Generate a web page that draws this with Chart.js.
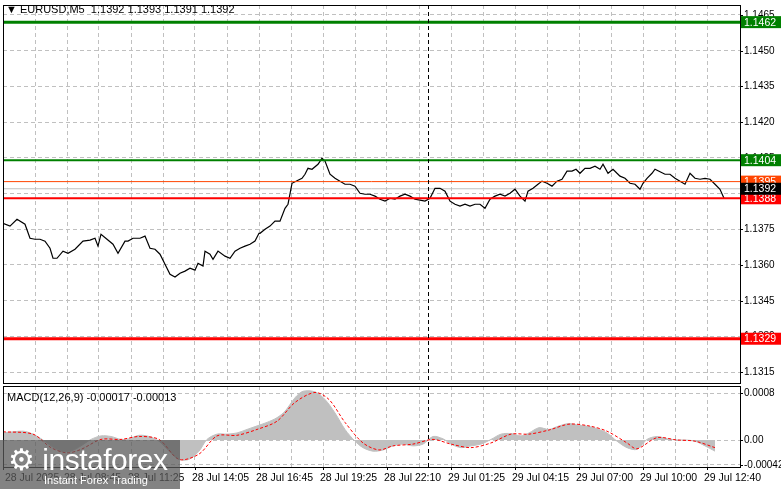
<!DOCTYPE html>
<html><head><meta charset="utf-8">
<script src="https://cdn.jsdelivr.net/npm/chart.js@4"></script>
<style>
body{margin:0;width:781px;height:489px;background:#fff;overflow:hidden;position:relative;font-family:"Liberation Sans",sans-serif}
#c1{position:absolute;left:0;top:0}
#c2{position:absolute;left:0;top:384px}
.t{position:absolute;font-size:11px;color:#000;white-space:nowrap}
#logo{position:absolute;left:0;top:440px;width:180px;height:49px;background:rgba(90,90,90,0.75);color:#fff}
</style></head><body>
<canvas id="c1" width="781" height="384"></canvas>
<canvas id="c2" width="781" height="105"></canvas>
<div class="t" style="left:6px;top:3px">&#9660; EURUSD,M5&nbsp; 1.1392 1.1393 1.1391 1.1392</div>
<div class="t" style="left:7px;top:391px">MACD(12,26,9) -0.00017 -0.00013</div>
<div id="logo"><div style="position:absolute;left:8px;top:2px;font-size:30px;font-family:'Liberation Sans',sans-serif;letter-spacing:-0.5px">&#9881; instaforex</div><div style="position:absolute;left:44px;top:34px;font-size:11px">Instant Forex Trading</div></div>
<script>
// ---- data ----
const priceBars = [0,3.5,7,11,13.5,16,18.5,21,23.5,25,27,30,32.5,36,40,43.5,46,47.5,49,52,55,57.5,61,62.5,65,68.5,71,73.5,76,78.5,81,83.5,86,88.5,91,93.5,96,97.5,100,101,103.5,105,107.5,111,113.5,116,118.5,121,123.5,126,128,128.5,131,133.5,136,138.5,141,142.5,144.5,147.5,149.5,151,152.5,154.5,157.5,159.5,161,163.5,166,168.5,171,173.5,176,178.5,181,183.5,186,188.5,191,193.5,196,198.5,201,203.5,206,208.5,211,213.5,216,218.5,221,223.5,226,228.5,231,233.5,236,238.5,241,243.5,246,248.5,251,253.5,256,258.5,261,262.5,265,267.5,269.5,272,274.5,277,279.5,282,284.5,286.5,288.5,291,293.5,296,298.5,300,302.5,305,307,308.5,311,313.5,316,318.5,320,322,324.5,326,331,333.5,336,338.5,341,343.5,346,348.5,351,353.5,356,358.5,360.5];
const closes = [1.13775,1.13763,1.13792,1.13771,1.13712,1.13708,1.13708,1.13700,1.13670,1.13628,1.13628,1.13658,1.13649,1.13666,1.13700,1.13704,1.13712,1.13679,1.13729,1.13708,1.13687,1.13649,1.13700,1.13700,1.13712,1.13712,1.13721,1.13670,1.13666,1.13645,1.13603,1.13561,1.13549,1.13565,1.13574,1.13586,1.13578,1.13607,1.13595,1.13658,1.13645,1.13624,1.13658,1.13637,1.13628,1.13658,1.13670,1.13679,1.13687,1.13700,1.13733,1.13733,1.13750,1.13763,1.13784,1.13784,1.13838,1.13855,1.13943,1.13956,1.13964,1.13981,1.14006,1.14002,1.14023,1.14048,1.14036,1.13981,1.13964,1.13952,1.13939,1.13939,1.13931,1.13901,1.13897,1.13897,1.13889,1.13876,1.13868,1.13880,1.13876,1.13889,1.13897,1.13889,1.13876,1.13872,1.13868,1.13880,1.13922,1.13922,1.13910,1.13868,1.13855,1.13847,1.13855,1.13847,1.13855,1.13855,1.13838,1.13876,1.13889,1.13897,1.13889,1.13901,1.13918,1.13889,1.13868,1.13910,1.13922,1.13939,1.13952,1.13943,1.13931,1.13952,1.13960,1.13994,1.13994,1.14002,1.13985,1.14006,1.14006,1.14015,1.14002,1.14023,1.13985,1.14002,1.13985,1.13973,1.13964,1.13943,1.13939,1.13918,1.13943,1.13964,1.13985,1.14002,1.13981,1.13981,1.13964,1.13952,1.13939,1.13985,1.13964,1.13960,1.13964,1.13960,1.13939,1.13918,1.13880,1.13901];
const macdBars = [0,10,15,20,24,29,34,39,44,49,54,59,63,68,73,78,83,88,93,98,102,107,112,117,122,127,132,137,141,146,150,156,161,166,171,176,180,185,190,195,200,205,210,215,220,224,229,234,239,244,249,254,259,263,268,273,278,283,288,293,298,302,307,312,317,322,327,332,337,341,346,351,356];
const macdMain = [0.00012,0.00015,0.0001,0,-0.0001,-0.00019,-0.00019,-0.0001,0.00001,0.00007,0.00006,0.00001,0.00002,0.00008,0.00006,-0.00002,-0.00019,-0.00033,-0.00033,-0.00019,0.00001,0.0001,0.0001,0.00012,0.00018,0.00024,0.0003,0.00038,0.00049,0.00072,0.00083,0.00082,0.00069,0.00046,0.00018,-0.00002,-0.00013,-0.00019,-0.00017,-0.0001,-0.00007,-0.0001,-0.00007,0.00006,0.00002,-0.00007,-0.00013,-0.0001,-0.00007,0.00001,0.0001,0.00011,0.00007,0.00012,0.00021,0.00018,0.00024,0.00028,0.00025,0.00023,0.00018,0.00012,-0.00002,-0.00013,-0.00016,0.00001,0.00006,0.00002,0,0,-0.00002,-0.0001,-0.00019];
const signalBars = [0,15,24,32,39,49,59,68,78,88,98,107,117,127,137,146,156,163,171,180,188,195,205,215,224,234,244,254,263,273,283,293,302,312,317,327,337,346,356];
const macdSignal = [0.00014,0.0001,-0.00013,-0.00022,-0.00016,0.00001,0.00001,0.00006,0.00001,-0.00033,-0.00024,0.00007,0.00008,0.00018,0.00032,0.00064,0.00081,0.00069,0.0003,-0.00005,-0.00017,-0.0001,-0.00007,0.00001,-0.00007,-0.00013,-0.00005,0.0001,0.0001,0.00017,0.00027,0.00024,0.00015,-0.00005,-0.00015,0.00004,0,-0.00002,-0.00013];
const priceTicks = [1.1315,1.1330,1.1345,1.1360,1.1375,1.1390,1.1405,1.1420,1.1435,1.1450,1.1465];
const levels = [1.1462,1.1404,1.1395,1.1392,1.1388,1.1329];
const levelColors = ['#008000','#008000','#ff4500','#c0c0c0','#ff0000','#ff0000'];
const levelWidths = [3,2,1,1,2,3];
const boxColors = ['#008000','#008000','#ff4500','#000000','#ff0000','#ff0000'];
const macdTicks = [0.0008,0,-0.00042];
const macdTickText = ['0.0008','0.00','-0.00042'];
const timeLabels = ['28 Jul 2025','28 Jul 08:45','28 Jul 11:25','28 Jul 14:05','28 Jul 16:45','28 Jul 19:25','28 Jul 22:10','29 Jul 01:25','29 Jul 04:15','29 Jul 07:00','29 Jul 10:00','29 Jul 12:40'];
const timeBars = [0,32,64,96,128,160,192,224,256,288,320,352];
const gridBars = [16,32,48,64,80,96,112,128,144,160,176,192,208,224,240,256,272,288,304,320,336,352];
const separatorBar = 212.5;

const xScale = {type:'linear', min:0, max:368.5, afterBuildTicks:s=>{s.ticks=gridBars.map(v=>({value:v}));}, afterFit:s=>{s.height=0;},
  ticks:{display:false}, grid:{color:'#c0c0c0', drawTicks:false}, border:{display:false, dash:[4,3]}};

const frame = {id:'frame', afterDraw(c){const a=c.chartArea,x=c.ctx;x.save();
  const sx=c.scales.x.getPixelForValue(separatorBar);
  x.strokeStyle='#000';x.setLineDash([4,3]);x.lineWidth=1;x.beginPath();x.moveTo(Math.round(sx)+.5,a.top);x.lineTo(Math.round(sx)+.5,a.bottom);x.stroke();
  x.setLineDash([]);x.strokeRect(a.left+.5,a.top+.5,a.right-a.left,a.bottom-a.top);
  const ys=c.scales.y, vals=c.options.tickVals, txt=c.options.tickTxt;
  x.font='10px Liberation Sans';x.textBaseline='middle';x.fillStyle='#000';
  vals.forEach((v,i)=>{const py=Math.round(ys.getPixelForValue(v));x.fillRect(a.right,py,3,1);x.fillText(txt[i],a.right+4,py+0.5);});
  x.restore();}};

const boxes = {id:'boxes', afterDraw(c){const x=c.ctx,y=c.scales.y,a=c.chartArea;x.save();x.font='10.5px Liberation Sans';x.textBaseline='middle';
  const order=[0,1,5,2,4,3];
  order.forEach(i=>{const py=y.getPixelForValue(levels[i]);x.fillStyle=boxColors[i];x.fillRect(a.right+1,py-6,40,12);
    x.fillStyle='#fff';x.fillText(levels[i].toFixed(4),a.right+4,py+0.5);});x.restore();}};

const lvlSets = levels.map((v,i)=>({data:[{x:0,y:v},{x:368.5,y:v}],borderColor:levelColors[i],borderWidth:levelWidths[i],pointRadius:0,order:i===3?5:0}));

new Chart(document.getElementById('c1'),{type:'line',
 data:{datasets:[{data:priceBars.map((b,i)=>({x:b,y:closes[i]})),borderColor:'#000',borderWidth:1.2,pointRadius:0,tension:0,order:1},...lvlSets]},
 options:{responsive:false,animation:false,events:[],layout:{padding:{left:3,top:5,right:0,bottom:1}},
  tickVals:priceTicks, tickTxt:priceTicks.map(v=>v.toFixed(4)),
  plugins:{legend:{display:false},tooltip:{enabled:false}},
  scales:{x:xScale,
   y:{position:'right',min:1.13104,max:1.14692,afterBuildTicks:s=>{s.ticks=priceTicks.map(v=>({value:v}));},afterFit:s=>{s.width=41;},
    ticks:{display:false},grid:{color:'#c0c0c0',drawTicks:false},border:{display:false,dash:[4,3]}}}},
 plugins:[frame,boxes]});

const timeAxis = {id:'timeAxis', afterDraw(c){const x=c.ctx,s=c.scales.x;x.save();x.font='10.5px Liberation Sans';x.fillStyle='#000';x.textBaseline='top';
  timeLabels.forEach((t,i)=>{const px=s.getPixelForValue(timeBars[i]);x.fillText(t,px+(i===0?2:-3),c.chartArea.bottom+6);
   x.fillRect(Math.round(px),c.chartArea.bottom,1,3);});x.restore();}};

new Chart(document.getElementById('c2'),{type:'line',
 data:{datasets:[
  {data:signalBars.map((b,i)=>({x:b,y:macdSignal[i]})),borderColor:'#ff0000',borderWidth:1,borderDash:[3,2],pointRadius:0,tension:0.3},
  {data:macdBars.map((b,i)=>({x:b,y:macdMain[i]})),borderColor:'#c0c0c0',backgroundColor:'#c0c0c0',borderWidth:1,fill:'origin',pointRadius:0,tension:0.3}]},
 options:{responsive:false,animation:false,events:[],layout:{padding:{left:3,top:2,right:0,bottom:22}},
  tickVals:macdTicks, tickTxt:macdTickText,
  plugins:{legend:{display:false},tooltip:{enabled:false}},
  scales:{x:xScale,
   y:{position:'right',min:-0.00046,max:0.00092,afterBuildTicks:s=>{s.ticks=macdTicks.map(v=>({value:v}));},afterFit:s=>{s.width=41;},
    ticks:{display:false},grid:{color:'#c0c0c0',drawTicks:false},border:{display:false,dash:[4,3]}}}},
 plugins:[frame,timeAxis]});
</script></body></html>
